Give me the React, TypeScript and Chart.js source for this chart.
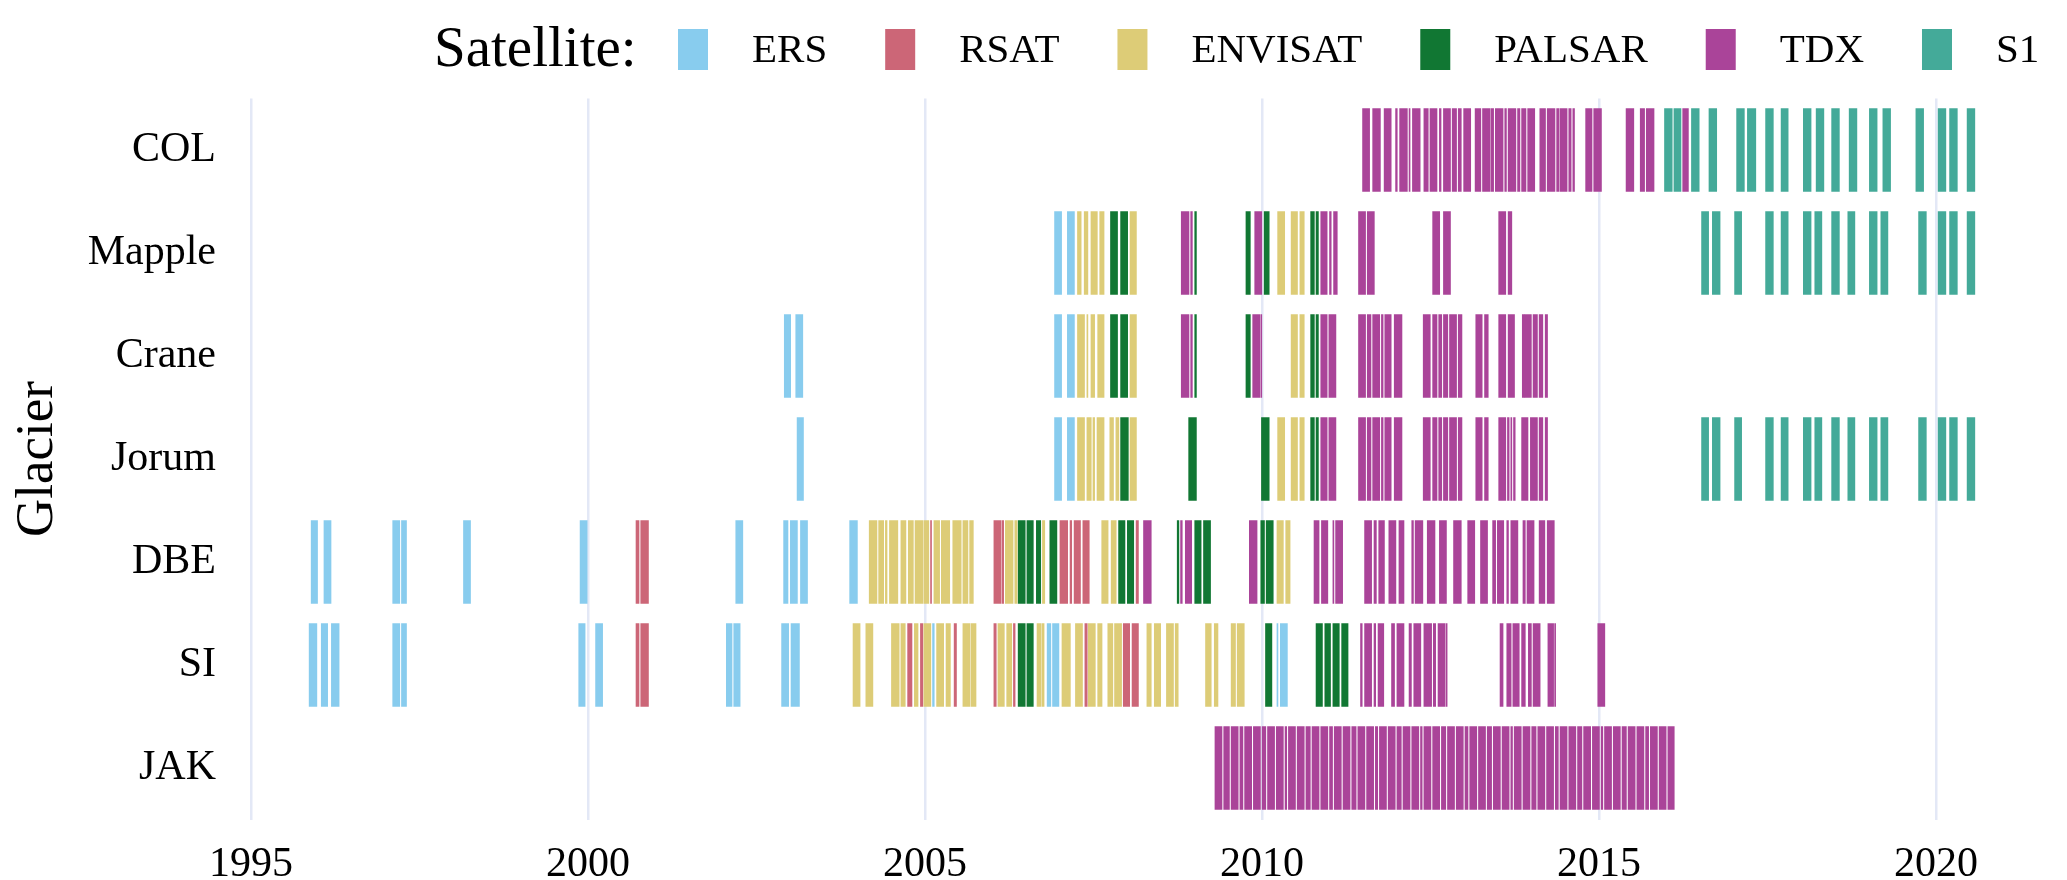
import { useEffect, useRef } from 'react';
import { Chart, registerables } from 'chart.js';

Chart.register(...registerables);

const glaciers = ['COL', 'Mapple', 'Crane', 'Jorum', 'DBE', 'SI', 'JAK'];
const satellites = ['ERS', 'RSAT', 'ENVISAT', 'PALSAR', 'TDX', 'S1'];
const satelliteColors = ['#88CCEE', '#CC6677', '#DDCC77', '#117733', '#AA4499', '#44AA99'];
const xTickValues = [1995, 2000, 2005, 2010, 2015, 2020];

// ---- COL ----
const COL_TDX = [[2011.49,2011.60],[2011.64,2011.76],[2011.81,2011.92],[2011.98,2012.01],[2012.04,2012.16],[2012.18,2012.20],[2012.23,2012.35],[2012.40,2012.47],[2012.49,2012.60],[2012.63,2012.66],[2012.69,2012.80],[2012.82,2012.89],[2012.91,2012.96],[2012.99,2013.10],[2013.16,2013.25],[2013.27,2013.39],[2013.40,2013.44],[2013.46,2013.58],[2013.60,2013.63],[2013.65,2013.77],[2013.79,2013.83],[2013.85,2013.92],[2013.94,2014.05],[2014.12,2014.21],[2014.23,2014.35],[2014.37,2014.41],[2014.42,2014.53],[2014.55,2014.59],[2014.61,2014.64],[2014.80,2014.90],[2014.92,2015.04],[2015.40,2015.52],[2015.61,2015.68],[2015.70,2015.82],[2016.24,2016.33]];
const COL_S1 = [[2015.97,2016.09],[2016.11,2016.22],[2016.37,2016.49],[2016.63,2016.75],[2017.04,2017.16],[2017.20,2017.33],[2017.47,2017.59],[2017.70,2017.81],[2018.03,2018.15],[2018.22,2018.34],[2018.45,2018.57],[2018.71,2018.83],[2019.01,2019.13],[2019.21,2019.33],[2019.70,2019.82],[2020.03,2020.15],[2020.20,2020.32],[2020.46,2020.58]];

// ---- Mapple ----
const MAPPLE_ERS = [[2006.92,2007.03],[2007.11,2007.22]];
const MAPPLE_ENVISAT = [[2007.26,2007.32],[2007.36,2007.42],[2007.46,2007.56],[2007.59,2007.66],[2008.04,2008.14],[2010.23,2010.34],[2010.43,2010.53],[2010.56,2010.63]];
const MAPPLE_PALSAR = [[2007.75,2007.86],[2007.90,2008.01],[2009.00,2009.03],[2009.76,2009.83],[2010.03,2010.11],[2010.72,2010.78],[2010.80,2010.84]];
const MAPPLE_TDX = [[2008.80,2008.92],[2008.94,2008.97],[2009.89,2010.00],[2010.87,2010.97],[2011.00,2011.03],[2011.06,2011.12],[2011.43,2011.54],[2011.56,2011.67],[2012.53,2012.64],[2012.69,2012.80],[2013.51,2013.62],[2013.65,2013.71]];
const MAPPLE_S1 = [[2016.52,2016.63],[2016.68,2016.80],[2017.01,2017.12],[2017.47,2017.59],[2017.70,2017.81],[2018.03,2018.15],[2018.20,2018.31],[2018.45,2018.57],[2018.69,2018.80],[2019.01,2019.13],[2019.18,2019.29],[2019.74,2019.86],[2020.03,2020.15],[2020.20,2020.32],[2020.46,2020.58]];

// ---- Crane ----
const CRANE_ERS = [[2002.91,2003.01],[2003.08,2003.19],[2006.92,2007.03],[2007.11,2007.22]];
const CRANE_ENVISAT = [[2007.26,2007.37],[2007.40,2007.42],[2007.46,2007.52],[2007.56,2007.66],[2008.04,2008.14],[2010.43,2010.53],[2010.56,2010.63]];
const CRANE_PALSAR = [[2007.75,2007.86],[2007.90,2008.01],[2009.00,2009.03],[2009.76,2009.83],[2010.72,2010.78],[2010.80,2010.84]];
const CRANE_TDX = [[2008.80,2008.92],[2008.94,2008.97],[2009.86,2009.97],[2009.98,2010.00],[2010.87,2010.97],[2010.99,2011.10],[2011.43,2011.54],[2011.56,2011.62],[2011.64,2011.75],[2011.77,2011.80],[2011.82,2011.92],[2011.96,2012.08],[2012.39,2012.50],[2012.53,2012.60],[2012.62,2012.67],[2012.69,2012.76],[2012.78,2012.89],[2012.91,2012.97],[2013.17,2013.27],[2013.30,2013.36],[2013.51,2013.62],[2013.65,2013.75],[2013.86,2013.89],[2013.89,2014.00],[2014.02,2014.09],[2014.11,2014.17],[2014.20,2014.24]];

// ---- Jorum ----
const JORUM_ERS = [[2003.10,2003.20],[2006.92,2007.03],[2007.11,2007.22]];
const JORUM_ENVISAT = [[2007.26,2007.37],[2007.40,2007.47],[2007.49,2007.52],[2007.55,2007.66],[2007.74,2007.80],[2007.83,2007.88],[2008.04,2008.14],[2010.23,2010.34],[2010.43,2010.53],[2010.56,2010.63]];
const JORUM_PALSAR = [[2007.90,2008.02],[2008.91,2009.03],[2009.99,2010.11],[2010.72,2010.78],[2010.80,2010.84]];
const JORUM_TDX = [[2010.87,2010.97],[2010.99,2011.10],[2011.43,2011.54],[2011.56,2011.62],[2011.64,2011.75],[2011.77,2011.80],[2011.82,2011.92],[2011.96,2012.08],[2012.39,2012.50],[2012.53,2012.60],[2012.62,2012.67],[2012.69,2012.76],[2012.78,2012.89],[2012.91,2012.97],[2013.17,2013.27],[2013.30,2013.36],[2013.51,2013.62],[2013.64,2013.67],[2013.69,2013.71],[2013.73,2013.76],[2013.85,2013.95],[2013.98,2014.09],[2014.11,2014.17],[2014.20,2014.24]];
const JORUM_S1 = [[2016.52,2016.63],[2016.68,2016.80],[2017.01,2017.12],[2017.47,2017.59],[2017.70,2017.81],[2018.03,2018.15],[2018.20,2018.31],[2018.45,2018.57],[2018.69,2018.80],[2019.01,2019.13],[2019.18,2019.29],[2019.74,2019.86],[2020.03,2020.15],[2020.20,2020.32],[2020.46,2020.58]];

// ---- DBE ----
const DBE_ERS = [[1995.89,1995.99],[1996.08,1996.19],[1997.10,1997.21],[1997.23,1997.31],[1998.15,1998.26],[1999.88,1999.99],[2002.19,2002.30],[2002.90,2002.97],[2003.00,2003.11],[2003.15,2003.26],[2003.88,2004.00]];
const DBE_RSAT = [[2000.71,2000.76],[2000.78,2000.90],[2005.08,2005.10],[2006.02,2006.13],[2006.14,2006.17],[2007.00,2007.12],[2007.15,2007.18],[2007.21,2007.31],[2007.34,2007.44],[2008.13,2008.17]];
const DBE_ENVISAT = [[2004.17,2004.29],[2004.31,2004.39],[2004.41,2004.44],[2004.47,2004.60],[2004.64,2004.72],[2004.75,2004.83],[2004.85,2004.97],[2004.98,2005.06],[2005.13,2005.22],[2005.24,2005.37],[2005.41,2005.54],[2005.56,2005.64],[2005.66,2005.72],[2006.19,2006.31],[2006.33,2006.37],[2006.74,2006.78],[2007.62,2007.72],[2007.76,2007.84],[2010.22,2010.32],[2010.35,2010.42]];
const DBE_PALSAR = [[2006.38,2006.49],[2006.51,2006.61],[2006.65,2006.72],[2006.85,2006.96],[2007.87,2007.97],[2008.00,2008.10],[2008.74,2008.77],[2009.00,2009.10],[2009.13,2009.24],[2009.98,2010.04],[2010.06,2010.17]];
const DBE_TDX = [[2008.24,2008.36],[2008.79,2008.82],[2008.86,2008.96],[2009.81,2009.93],[2010.77,2010.85],[2010.88,2010.98],[2011.05,2011.07],[2011.09,2011.20],[2011.52,2011.63],[2011.66,2011.70],[2011.73,2011.82],[2011.88,2011.99],[2012.03,2012.11],[2012.22,2012.25],[2012.27,2012.39],[2012.45,2012.57],[2012.63,2012.74],[2012.84,2012.96],[2013.05,2013.16],[2013.24,2013.35],[2013.42,2013.47],[2013.49,2013.59],[2013.63,2013.66],[2013.69,2013.80],[2013.87,2013.91],[2013.93,2014.04],[2014.11,2014.20],[2014.23,2014.34]];

// ---- SI ----
const SI_ERS = [[1995.86,1995.98],[1996.04,1996.14],[1996.19,1996.31],[1997.10,1997.21],[1997.23,1997.31],[1999.86,1999.96],[2000.11,2000.22],[2002.05,2002.14],[2002.16,2002.26],[2002.87,2002.98],[2003.01,2003.14],[2005.11,2005.14],[2006.81,2006.87],[2006.89,2006.99],[2010.22,2010.24],[2010.27,2010.38]];
const SI_RSAT = [[2000.71,2000.76],[2000.78,2000.90],[2004.74,2004.81],[2004.93,2004.97],[2005.43,2005.47],[2006.02,2006.06],[2006.31,2006.34],[2007.37,2007.41],[2007.94,2008.04],[2008.07,2008.17]];
const SI_ENVISAT = [[2003.93,2004.04],[2004.12,2004.23],[2004.50,2004.62],[2004.64,2004.71],[2004.84,2004.90],[2004.98,2005.09],[2005.17,2005.28],[2005.31,2005.38],[2005.56,2005.67],[2005.68,2005.76],[2006.08,2006.18],[2006.21,2006.29],[2006.66,2006.72],[2006.73,2006.77],[2007.03,2007.16],[2007.23,2007.34],[2007.42,2007.53],[2007.56,2007.63],[2007.71,2007.79],[2007.81,2007.92],[2008.29,2008.36],[2008.40,2008.50],[2008.58,2008.69],[2008.71,2008.76],[2009.16,2009.25],[2009.29,2009.35],[2009.54,2009.61],[2009.63,2009.74]];
const SI_PALSAR = [[2006.38,2006.49],[2006.51,2006.61],[2010.05,2010.15],[2010.80,2010.90],[2010.93,2011.02],[2011.05,2011.15],[2011.18,2011.28]];
const SI_TDX = [[2011.46,2011.49],[2011.52,2011.63],[2011.66,2011.69],[2011.72,2011.81],[2011.92,2011.97],[2012.00,2012.11],[2012.18,2012.22],[2012.25,2012.36],[2012.40,2012.52],[2012.54,2012.58],[2012.61,2012.72],[2012.73,2012.75],[2013.53,2013.58],[2013.63,2013.70],[2013.72,2013.82],[2013.85,2013.91],[2013.95,2014.00],[2014.02,2014.13],[2014.24,2014.33],[2014.34,2014.36],[2014.98,2015.09]];

// ---- JAK ----
const JAK_TDX = [[2009.30,2009.41],[2009.43,2009.52],[2009.54,2009.65],[2009.67,2009.72],[2009.74,2009.85],[2009.87,2009.98],[2010.00,2010.06],[2010.08,2010.19],[2010.21,2010.32],[2010.34,2010.37],[2010.39,2010.50],[2010.52,2010.63],[2010.65,2010.72],[2010.74,2010.85],[2010.87,2010.98],[2011.00,2011.05],[2011.07,2011.18],[2011.20,2011.31],[2011.33,2011.40],[2011.42,2011.53],[2011.55,2011.66],[2011.68,2011.72],[2011.74,2011.85],[2011.87,2011.98],[2012.00,2012.07],[2012.09,2012.20],[2012.22,2012.33],[2012.35,2012.38],[2012.40,2012.51],[2012.53,2012.64],[2012.66,2012.73],[2012.75,2012.86],[2012.88,2012.99],[2013.01,2013.06],[2013.08,2013.19],[2013.21,2013.32],[2013.34,2013.41],[2013.43,2013.54],[2013.56,2013.67],[2013.69,2013.72],[2013.74,2013.85],[2013.87,2013.98],[2014.00,2014.07],[2014.09,2014.20],[2014.22,2014.33],[2014.35,2014.40],[2014.42,2014.53],[2014.55,2014.66],[2014.68,2014.75],[2014.77,2014.88],[2014.90,2015.01],[2015.03,2015.06],[2015.08,2015.19],[2015.21,2015.32],[2015.34,2015.41],[2015.43,2015.54],[2015.56,2015.67],[2015.69,2015.74],[2015.76,2015.87],[2015.89,2016.00],[2016.02,2016.12]];

// table built from the arrays above: satellite -> list of [glacier, intervals]
const barsBySatellite: Record<string, [string, number[][]][]> = {
  ERS: [['Mapple', MAPPLE_ERS], ['Crane', CRANE_ERS], ['Jorum', JORUM_ERS], ['DBE', DBE_ERS], ['SI', SI_ERS]],
  RSAT: [['DBE', DBE_RSAT], ['SI', SI_RSAT]],
  ENVISAT: [['Mapple', MAPPLE_ENVISAT], ['Crane', CRANE_ENVISAT], ['Jorum', JORUM_ENVISAT], ['DBE', DBE_ENVISAT], ['SI', SI_ENVISAT]],
  PALSAR: [['Mapple', MAPPLE_PALSAR], ['Crane', CRANE_PALSAR], ['Jorum', JORUM_PALSAR], ['DBE', DBE_PALSAR], ['SI', SI_PALSAR]],
  TDX: [['COL', COL_TDX], ['Mapple', MAPPLE_TDX], ['Crane', CRANE_TDX], ['Jorum', JORUM_TDX], ['DBE', DBE_TDX], ['SI', SI_TDX], ['JAK', JAK_TDX]],
  S1: [['COL', COL_S1], ['Mapple', MAPPLE_S1], ['Jorum', JORUM_S1]],
};

const FONT = '"Liberation Serif", "Times New Roman", serif';

const legendPlugin = {
  id: 'satelliteLegend',
  afterDraw(chart: any) {
    const ctx = chart.ctx as CanvasRenderingContext2D;
    ctx.save();
    ctx.textBaseline = 'middle';
    ctx.textAlign = 'left';
    ctx.fillStyle = '#000';
    ctx.font = `57px ${FONT}`;
    ctx.fillText('Satellite:', 434, 51);
    ctx.font = `41px ${FONT}`;
    let x = 678;
    satellites.forEach((s, i) => {
      ctx.fillStyle = satelliteColors[i];
      ctx.fillRect(x, 29, 30, 41);
      ctx.fillStyle = '#000';
      ctx.fillText(s, x + 74, 51);
      x += 74 + ctx.measureText(s).width + 58;
    });
    ctx.restore();
  },
};

export default function App() {
  const ref = useRef<HTMLCanvasElement | null>(null);

  useEffect(() => {
    document.body.style.margin = '0';
    const canvas = ref.current;
    if (!canvas) return;

    const datasets = satellites.map((sat, i) => ({
      label: sat,
      data: barsBySatellite[sat].flatMap(([g, list]) => list.map((iv) => ({ y: g, x: [iv[0], iv[1]] }))),
      backgroundColor: satelliteColors[i],
      borderWidth: 0,
      inflateAmount: 0.15,
      grouped: false,
      barPercentage: 0.81,
      categoryPercentage: 1,
    }));

    const chart = new Chart(canvas, {
      type: 'bar',
      data: { labels: glaciers, datasets: datasets as any },
      plugins: [legendPlugin],
      options: {
        indexAxis: 'y',
        animation: false,
        responsive: false,
        devicePixelRatio: 1,
        layout: { padding: { top: 98.5, right: 32, bottom: 0, left: 0 } },
        plugins: { legend: { display: false }, tooltip: { enabled: false } },
        scales: {
          x: {
            type: 'linear',
            min: 1995,
            max: 2021.47,
            afterBuildTicks: (s: any) => {
              s.ticks = xTickValues.map((v) => ({ value: v }));
            },
            afterFit: (s: any) => {
              s.height = 60.5;
            },
            grid: { color: '#E3E8F6', lineWidth: 2.5, drawTicks: false },
            border: { display: false },
            ticks: {
              padding: 20,
              color: '#000',
              font: { family: FONT, size: 42 },
              callback: (v: any) => String(v),
            },
          },
          y: {
            type: 'category',
            afterFit: (s: any) => {
              s.width = 251;
            },
            grid: { display: false },
            border: { display: false },
            ticks: { padding: 27, color: '#000', font: { family: FONT, size: 42 } },
            title: {
              display: true,
              text: 'Glacier',
              color: '#000',
              font: { family: FONT, size: 53 },
              padding: { top: 6, bottom: 0 },
            },
          },
        },
      } as any,
    });

    return () => chart.destroy();
  }, []);

  return (
    <div style={{ width: 2067, height: 880 }}>
      <canvas ref={ref} width={2067} height={880} style={{ display: 'block' }} />
    </div>
  );
}
